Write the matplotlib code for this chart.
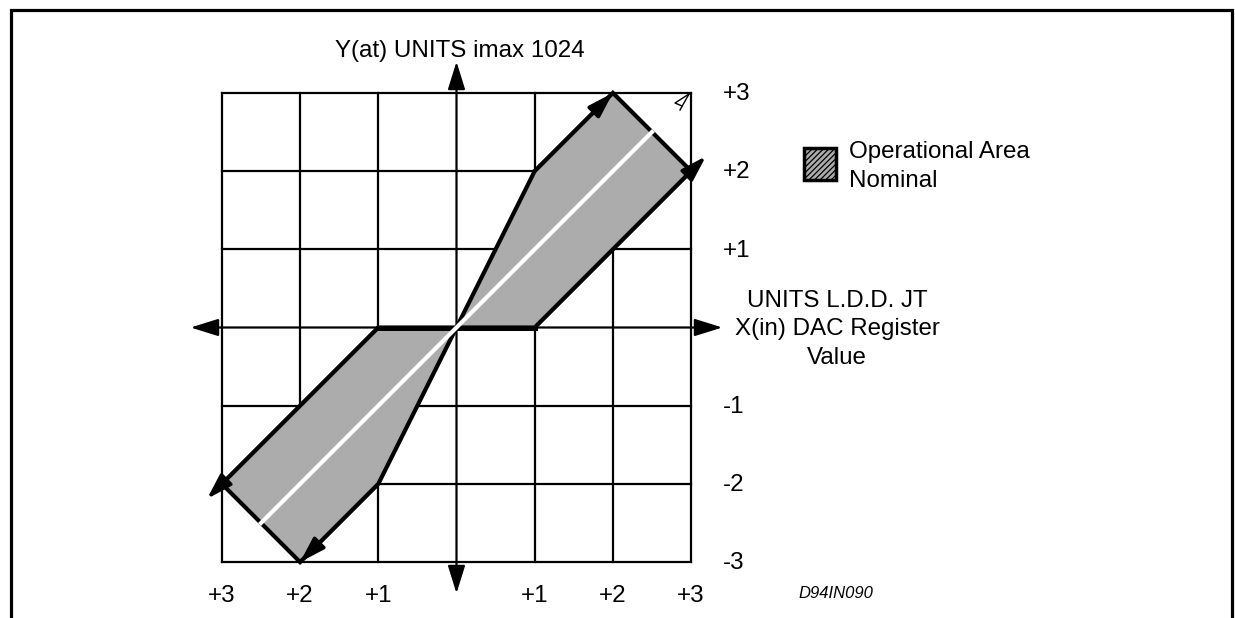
import matplotlib
matplotlib.use("Agg")
import matplotlib.pyplot as plt
from matplotlib.patches import Polygon, Rectangle

plt.rcParams['font.family'] = ['Liberation Sans', 'DejaVu Sans']
plt.rcParams['hatch.linewidth'] = 0.9
plt.rcParams['hatch.color'] = '#505050'

# ---- data ----
grid_vals = [-3, -2, -1, 0, 1, 2, 3]
y_tick_vals = [3, 2, 1, -1, -2, -3]
y_tick_labels = ['+3', '+2', '+1', '-1', '-2', '-3']
x_tick_vals = [-3, -2, -1, 1, 2, 3]
x_tick_labels = ['+3', '+2', '+1', '+1', '+2', '+3']

# operational area polygon (data units)
area_x = [0, 1, 2, 3, 1, -1, -3, -2, -1, 0]
area_y = [0, 2, 3, 2, 0, 0, -2, -3, -2, 0]
# nominal line
nominal_x = [-2.5, 2.5]
nominal_y = [-2.5, 2.5]

title_text = 'Y(at) UNITS imax 1024'
xaxis_lines = ['UNITS L.D.D. JT', 'X(in) DAC Register', 'Value']
legend_lines = ['Operational Area', 'Nominal']
code_text = 'D94IN090'

# ---- figure: one data unit = 78.2 px ----
W, H, DPI = 1235, 618, 100
U = 78.2
cx, cy = 456.5, 327.5
fig = plt.figure(figsize=(W / DPI, H / DPI), dpi=DPI)
ax = fig.add_axes([0, 0, 1, 1])
ax.set_xlim(-cx / U, (W - cx) / U)
ax.set_ylim(-(H - cy) / U, cy / U)
ax.axis('off')

def px(x):
    return (x - cx) / U

def py(y):
    return (cy - y) / U

FS = 17.4
FILL = '#acacac'
HATCH = '//////'

# outer frame
ax.plot([px(11), px(11), px(1232), px(1232)], [py(618), py(10), py(10), py(618)],
        color='black', lw=2.3, solid_joinstyle='miter', clip_on=False, zorder=1)

# grid
for g in grid_vals:
    if g == 0:
        continue
    ax.plot([g, g], [-3, 3], color='black', lw=1.6, zorder=1, solid_capstyle='projecting')
    ax.plot([-3, 3], [g, g], color='black', lw=1.6, zorder=1, solid_capstyle='projecting')

# axes with double arrows
ext_x = 3.4
ext_y = 3.4
axis_kw = dict(arrowstyle='<|-|>,head_length=0.9,head_width=0.28', color='black', lw=1.6,
               shrinkA=0, shrinkB=0, mutation_scale=19)
ax.annotate('', xy=(ext_x, 0), xytext=(-ext_x, 0), arrowprops=axis_kw, zorder=2)
ax.annotate('', xy=(0, ext_y), xytext=(0, -ext_y), arrowprops=axis_kw, zorder=2)

# operational area
poly = Polygon(list(zip(area_x, area_y)), closed=True, facecolor=FILL,
               edgecolor='none', hatch=HATCH, zorder=4)
ax.add_patch(poly)
ax.plot(area_x, area_y, color='black', lw=3.0, zorder=5, solid_joinstyle='miter')
ax.plot([area_x[4], area_x[5]], [area_y[4], area_y[5]], color='black', lw=3.6, zorder=5)

# arrows on the boundary
bkw = dict(arrowstyle='-|>,head_length=0.9,head_width=0.28', color='black', lw=2.5,
           shrinkA=0, shrinkB=0, mutation_scale=17)
d = 0.19
ax.annotate('', xy=(area_x[2], area_y[2]), xytext=(area_x[1], area_y[1]), arrowprops=bkw, zorder=6)
ax.annotate('', xy=(area_x[3] + d, area_y[3] + d), xytext=(area_x[4], area_y[4]), arrowprops=bkw, zorder=6)
ax.annotate('', xy=(area_x[6] - d, area_y[6] - d), xytext=(area_x[5], area_y[5]), arrowprops=bkw, zorder=6)
ax.annotate('', xy=(area_x[7], area_y[7]), xytext=(area_x[8], area_y[8]), arrowprops=bkw, zorder=6)

# nominal line
ax.plot(nominal_x, nominal_y, color='white', lw=3.0, zorder=7)

# small mark at top right corner
ax.plot([px(689), px(675), px(682)], [py(94), py(103), py(106)], color='black', lw=1.0, zorder=6)
ax.plot([px(689), px(680)], [py(94), py(110)], color='black', lw=1.0, zorder=6)

# tick labels
for v, lab in zip(y_tick_vals, y_tick_labels):
    ax.text(px(723), v - 0.093, lab, fontsize=FS, ha='left', va='baseline')
for v, lab in zip(x_tick_vals, x_tick_labels):
    ax.text(v, py(601.5), lab, fontsize=FS, ha='center', va='baseline')

# titles
ax.text(px(460), py(57.3), title_text, fontsize=FS, ha='center', va='baseline')
for i, line in enumerate(xaxis_lines):
    ax.text(px(837), py(306.7 + 28.6 * i), line, fontsize=FS, ha='center', va='baseline')

# legend
ax.add_patch(Rectangle((px(804), py(180)), 32 / U, 32 / U, facecolor=FILL,
                       edgecolor='black', lw=2.5, hatch=HATCH, zorder=4))
for i, line in enumerate(legend_lines):
    ax.text(px(849), py(158 + 28.5 * i), line, fontsize=FS, ha='left', va='baseline')

ax.text(px(798), py(598), code_text, fontsize=12, style='italic', ha='left', va='baseline')

fig.savefig('out.png', dpi=DPI)
